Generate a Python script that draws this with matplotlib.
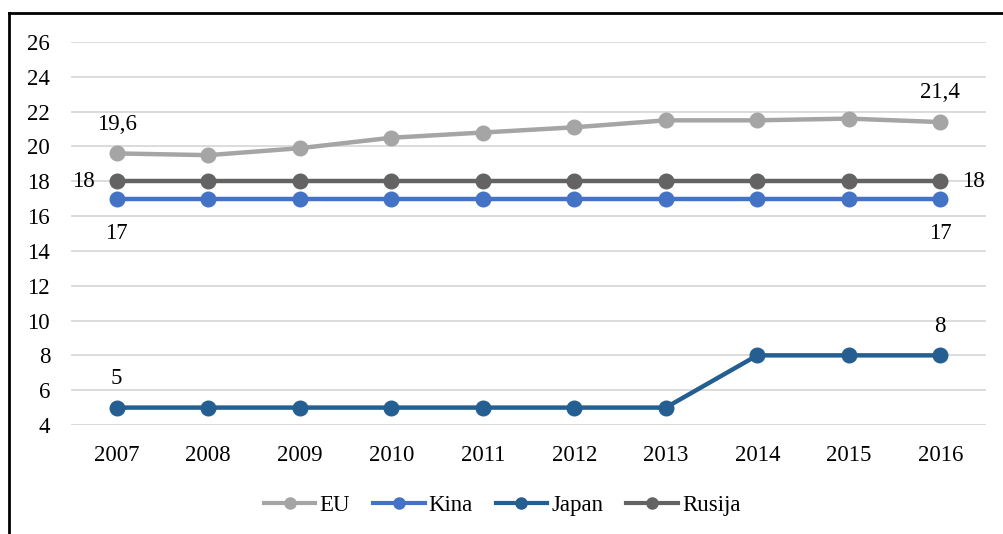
import matplotlib
matplotlib.use("Agg")
import matplotlib.pyplot as plt
from matplotlib.lines import Line2D

plt.rcParams['font.family'] = ['Liberation Serif', 'DejaVu Serif']

years = ['2007', '2008', '2009', '2010', '2011', '2012', '2013', '2014', '2015', '2016']
eu = [19.6, 19.5, 19.9, 20.5, 20.8, 21.1, 21.5, 21.5, 21.6, 21.4]
kina = [17, 17, 17, 17, 17, 17, 17, 17, 17, 17]
japan = [5, 5, 5, 5, 5, 5, 5, 8, 8, 8]
rusija = [18, 18, 18, 18, 18, 18, 18, 18, 18, 18]
yticks = [4, 6, 8, 10, 12, 14, 16, 18, 20, 22, 24, 26]

series = [
    ('EU', eu, '#A5A5A5'),
    ('Kina', kina, '#4472C4'),
    ('Japan', japan, '#255E91'),
    ('Rusija', rusija, '#636363'),
]

fs = 16.5

fig = plt.figure(figsize=(10.04, 5.34), dpi=100)
ax = fig.add_axes([71/1004, (534-425)/534, 915/1004, 383/534])
x = list(range(len(years)))

for name, vals, col in series:
    ax.plot(x, vals, color=col, lw=3.2, marker='o', markersize=10.5,
            label=name, clip_on=False, solid_capstyle='round', zorder=3)

ax.set_xlim(-0.5, len(years) - 0.5)
ax.set_ylim(4, 26)
ax.set_yticks(yticks)
ax.set_xticks(x)
ax.set_xticklabels(years)
ax.grid(axis='y', color='#D9D9D9', lw=1.3)
ax.set_axisbelow(True)
for s in ax.spines.values():
    s.set_visible(False)
ax.tick_params(length=0, labelsize=fs, colors='black')
ax.tick_params(axis='x', pad=14.5)
ax.tick_params(axis='y', pad=15)

def lab(xi, yv, txt, dx, dy, ha='center'):
    ax.annotate(txt, (xi, yv), xytext=(dx, dy), textcoords='offset points',
                ha=ha, va='center', fontsize=fs)

lab(0, eu[0], '19,6', 0, 21)
lab(9, eu[9], '21,4', 0, 21)
lab(0, rusija[0], '18', -24, 0)
lab(9, rusija[9], '18', 24, 0)
lab(0, kina[0], '17', 0, -25)
lab(9, kina[9], '17', 0, -25)
lab(0, japan[0], '5', 0, 21)
lab(9, japan[9], '8', 0, 21)

handles = [Line2D([], [], color=c, lw=3.0, marker='o', markersize=8) for _, _, c in series]
fig.legend(handles, [n for n, _, _ in series], loc='center', bbox_to_anchor=(0.5, 0.054),
           ncol=4, frameon=False, fontsize=fs, handlelength=2.26, handletextpad=0.17,
           columnspacing=1.0, borderpad=0)

# chart border (top and left visible)
fig.add_artist(Line2D([9/1004, 1.01], [1 - 13/534, 1 - 13/534], transform=fig.transFigure,
                      color='black', lw=2))
fig.add_artist(Line2D([9/1004, 9/1004], [1 - 13/534, -0.01], transform=fig.transFigure,
                      color='black', lw=2))

fig.savefig('out.png', dpi=100)
